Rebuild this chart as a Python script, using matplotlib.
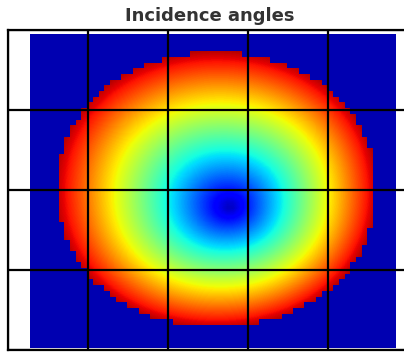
import numpy as np
import matplotlib
matplotlib.use("Agg")
import matplotlib.pyplot as plt

# sensor grid (pixels) and footprint of the illuminated disk, in axes units
n_cols, n_rows = 64, 55
img_extent = [0.275, 4.84, 0.025, 3.94]
disk_center = (2.6, 2.0)
disk_radii = (2.02, 1.74)
disk_power = 2.1               # superellipse exponent of the footprint
axis_center = (2.775, 1.775)   # where the incidence angle is zero
rim_angle = 62.0               # incidence angle at the footprint rim (deg)
vmin, vmax = -3.0, 66.0

x = np.linspace(img_extent[0], img_extent[1], n_cols)
y = np.linspace(img_extent[3], img_extent[2], n_rows)
X, Y = np.meshgrid(x, y)


def footprint(px, py):
    return (np.abs((px - disk_center[0]) / disk_radii[0]) ** disk_power
            + np.abs((py - disk_center[1]) / disk_radii[1]) ** disk_power)


inside = footprint(X, Y) <= 1

# fraction of the way from the optical axis out to the rim, along each ray
dx, dy = X - axis_center[0], Y - axis_center[1]
lo, hi = np.zeros_like(X), np.full_like(X, 50.0)
for _ in range(60):
    mid = 0.5 * (lo + hi)
    out = footprint(axis_center[0] + mid * dx, axis_center[1] + mid * dy) > 1
    hi = np.where(out, mid, hi)
    lo = np.where(out, lo, mid)
frac = 1.0 / np.maximum(hi, 1e-9)
angles = rim_angle * frac

# background pixels outside the footprint
bg = np.zeros((n_rows, n_cols, 4))
bg[~inside] = plt.get_cmap("jet")((0 - vmin) / (vmax - vmin))

fig = plt.figure(figsize=(4.04, 3.52), dpi=100)
ax = fig.add_axes([8 / 404, 2 / 352, 400 / 404, 320 / 352])
ax.imshow(angles, cmap="jet", vmin=vmin, vmax=vmax, extent=img_extent,
          origin="upper", interpolation="bilinear", aspect="auto")
ax.imshow(bg, extent=img_extent, origin="upper", interpolation="nearest",
          aspect="auto")
ax.set_xlim(0, 5)
ax.set_ylim(0, 4)
ax.set_xticks(range(6))
ax.set_yticks(range(5))
ax.grid(True, color="black", linewidth=1.6)
ax.tick_params(length=0, labelbottom=False, labelleft=False)
for s in ax.spines.values():
    s.set_linewidth(1.6)
ax.set_axisbelow(False)
fig.text(0.52, 1 - 16 / 352, "Incidence angles", ha="center", va="center",
         fontsize=13, fontweight="bold", color="#333333")
fig.savefig("out.png", dpi=100)
